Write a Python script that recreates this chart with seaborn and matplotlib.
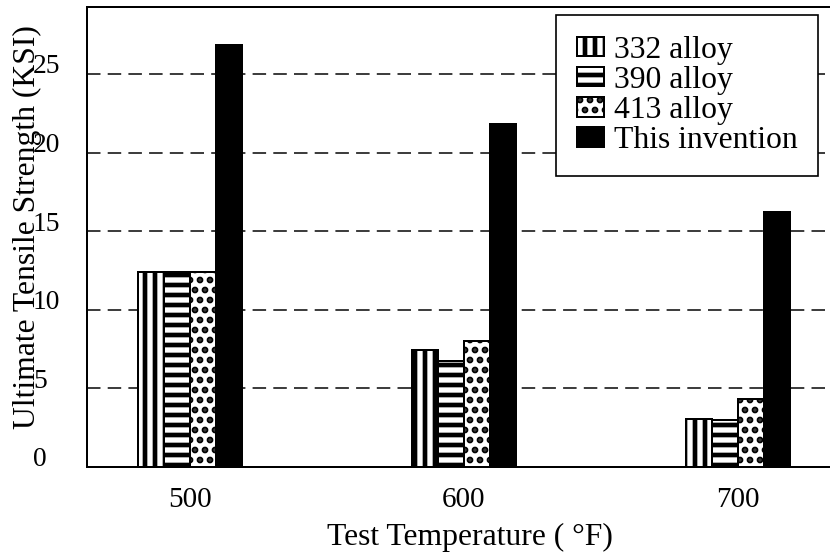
import numpy as np
import pandas as pd
import matplotlib
matplotlib.use('Agg')
import matplotlib.pyplot as plt
import matplotlib.transforms as mtransforms
import seaborn as sns

# data
temps = ['500', '600', '700']
alloys = ['332 alloy', '390 alloy', '413 alloy', 'This invention']
uts_332 = [12.4, 7.45, 3.05]
uts_390 = [12.4, 6.75, 3.0]
uts_413 = [12.4, 8.0, 4.3]
uts_inv = [26.85, 21.8, 16.2]
yticks = [0, 5, 10, 15, 20, 25]
hatches = ['||', '--', '..', '']

sns.set_theme(style='white')
plt.rcParams['font.family'] = ['Liberation Serif', 'DejaVu Serif']
plt.rcParams['hatch.linewidth'] = 2.8
plt.rcParams['hatch.color'] = 'black'

df = pd.DataFrame({
    'temp': temps * 4,
    'alloy': np.repeat(alloys, 3),
    'uts': uts_332 + uts_390 + uts_413 + uts_inv,
})

fig = plt.figure(figsize=(830 / 120, 558 / 120), dpi=120)
ax = fig.add_axes([0.1048, 0.1631, 0.9229, 0.8244])

sns.barplot(data=df, x='temp', y='uts', hue='alloy', order=temps, hue_order=alloys,
            palette=['white', 'white', 'white', 'black'], width=0.38, gap=0,
            edgecolor='black', linewidth=1.2, saturation=1, errorbar=None,
            legend=False, ax=ax)

for cont, h in zip(ax.containers, hatches):
    for bar in cont:
        bar.set_hatch(h)

ax.set_xlim(-0.376, 2.42)
ax.set_ylim(0, 29.26)
ax.set_yticks(yticks)
ax.set_axisbelow(True)
ax.yaxis.grid(True, linestyle=(0, (9, 4.8)), color='black', linewidth=0.9)
ax.xaxis.grid(False)

for s in ['top', 'left', 'bottom', 'right']:
    ax.spines[s].set_color('black')
    ax.spines[s].set_linewidth(1.2)

ax.tick_params(axis='x', length=0, pad=12, labelsize=17.5, colors='black')
ax.tick_params(axis='y', length=0, pad=32.4, labelsize=16.5, colors='black')
shift = mtransforms.ScaledTranslation(0, 10 / 120, fig.dpi_scale_trans)
for lab in ax.get_yticklabels():
    lab.set_horizontalalignment('left')
    lab.set_transform(lab.get_transform() + shift)

ax.set_xlabel('Test Temperature ( °F)', fontsize=19, color='black')
ax.xaxis.set_label_coords(0.5, -0.1217)
ax.set_ylabel('Ultimate Tensile Strength (KSI)', fontsize=19, color='black')
ax.yaxis.set_label_coords(-0.059, 0.522)

leg = ax.legend(ax.containers, alloys, loc='upper right',
                bbox_to_anchor=(818 / 830, 1 - 15 / 558), bbox_transform=fig.transFigure,
                borderaxespad=0, frameon=True, fancybox=False, edgecolor='black',
                framealpha=1, fontsize=19, handlelength=0.85, handleheight=0.57,
                handletextpad=0.32, labelspacing=0.04, borderpad=0.65)
leg.get_frame().set_linewidth(1.0)
for t in leg.get_texts():
    t.set_color('black')

fig.savefig('out.png', dpi=120)
